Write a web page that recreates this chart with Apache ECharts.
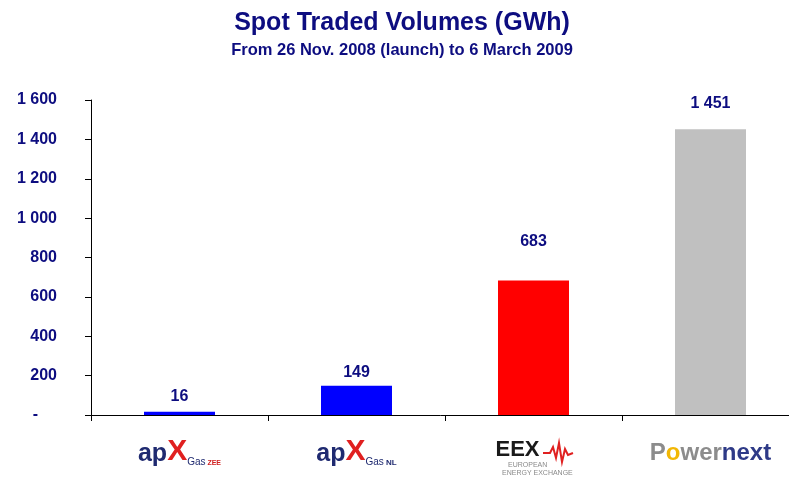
<!DOCTYPE html>
<html>
<head>
<meta charset="utf-8">
<script src="https://cdn.jsdelivr.net/npm/echarts@6/dist/echarts.min.js"></script>
<style>
  html, body { margin: 0; padding: 0; background: #fff; }
  #container { width: 789px; height: 477px; }
</style>
</head>
<body>
<div id="container"></div>
<script>
// data
var exchanges = ['APX Gas ZEE', 'APX Gas NL', 'EEX', 'Powernext'];
var volumes = [16, 149, 683, 1451];
var barColors = ['#0000ff', '#0000ff', '#ff0000', '#c0c0c0'];
var labelGap = [7, 5, 31, 18];   // gap between bar top and its value, as in the source

var navy = '#0d0d80';

function fmtNum(v) {
  if (v === 0) return '{z|-}';
  if (v >= 1000) return Math.floor(v / 1000) + ' ' + String(v % 1000).padStart(3, '0');
  return String(v);
}

// logos drawn as rich text
var logoText = {
  'APX Gas ZEE': '{ap|ap}{x|X}{gas|Gas}{tag| ZEE}',
  'APX Gas NL': '{ap|ap}{x|X}{gas|Gas}{nl| NL}',
  'EEX': '{eex|EEX}{gap|}\n{small|EUROPEAN      }\n{small|    ENERGY EXCHANGE}',
  'Powernext': '{pw|P}{po|o}{pw|wer}{nx|next}'
};

var dom = document.getElementById('container');
var myChart = echarts.init(dom, null, { renderer: 'canvas' });

var option = {
  animation: false,
  backgroundColor: '#fff',
  title: [
    {
      text: 'Spot Traded Volumes (GWh)',
      left: 397, top: 6, textAlign: 'center',
      textStyle: { fontFamily: 'Liberation Sans', fontSize: 25, fontWeight: 'bold', color: navy }
    },
    {
      text: 'From 26 Nov. 2008 (launch) to 6 March 2009',
      left: 397, top: 37, textAlign: 'center',
      textStyle: { fontFamily: 'Liberation Sans', fontSize: 16.5, fontWeight: 'bold', color: navy }
    }
  ],
  grid: { left: 91, top: 100, width: 708, height: 315, containLabel: false, outerBoundsMode: 'none' },
  xAxis: {
    type: 'category',
    data: exchanges,
    axisLine: { lineStyle: { color: '#000', width: 1 } },
    axisTick: { show: true, length: 6, lineStyle: { color: '#000' } },
    axisLabel: {
      margin: 24,
      interval: 0,
      formatter: function (v) { return logoText[v]; },
      rich: {
        ap: { fontFamily: 'Liberation Sans', fontSize: 25, fontWeight: 'bold', color: '#1f2a70', verticalAlign: 'bottom', lineHeight: 24 },
        x: { fontFamily: 'Liberation Sans', fontSize: 30, fontWeight: 'bold', color: '#e02020', verticalAlign: 'bottom', lineHeight: 28 },
        gas: { fontFamily: 'Liberation Sans', fontSize: 10, color: '#1f2a70', verticalAlign: 'bottom', lineHeight: 12 },
        tag: { fontFamily: 'Liberation Sans', fontSize: 7, fontWeight: 'bold', color: '#d02020', verticalAlign: 'bottom', lineHeight: 10 },
        nl: { fontFamily: 'Liberation Sans', fontSize: 8, fontWeight: 'bold', color: '#1f2a70', verticalAlign: 'bottom', lineHeight: 11 },
        eex: { fontFamily: 'Liberation Sans', fontSize: 22, fontWeight: 'bold', color: '#1a1a1a', lineHeight: 22 },
        gap: { width: 32, height: 20 },
        small: { fontFamily: 'Liberation Sans', fontSize: 7, color: '#8a8a8a', lineHeight: 8 },
        pw: { fontFamily: 'Liberation Sans', fontSize: 24, fontWeight: 'bold', color: '#8c8c8c', lineHeight: 28 },
        po: { fontFamily: 'Liberation Sans', fontSize: 24, fontWeight: 'bold', color: '#f2b705', lineHeight: 28 },
        nx: { fontFamily: 'Liberation Sans', fontSize: 24, fontWeight: 'bold', color: '#2e3a87', lineHeight: 28 }
      }
    }
  },
  yAxis: {
    type: 'value',
    min: 0, max: 1600, interval: 200,
    splitLine: { show: false },
    axisLine: { show: true, lineStyle: { color: '#000', width: 1 } },
    axisTick: { show: true, length: 6, lineStyle: { color: '#000' } },
    axisLabel: {
      margin: 34,
      fontFamily: 'Liberation Sans', fontSize: 16, fontWeight: 'bold', color: navy,
      formatter: fmtNum,
      rich: {
        z: { fontFamily: 'Liberation Sans', fontSize: 16, fontWeight: 'bold', color: navy, padding: [0, 19, 0, 0] }
      }
    }
  },
  series: [
    {
      type: 'bar',
      barWidth: 71,
      data: volumes.map(function (v, i) {
        return {
          value: v,
          itemStyle: { color: barColors[i] },
          label: { distance: labelGap[i] }
        };
      }),
      label: {
        show: true,
        position: 'top',
        fontFamily: 'Liberation Sans', fontSize: 16, fontWeight: 'bold', color: navy,
        formatter: function (p) { return fmtNum(p.value); }
      }
    }
  ],
  graphic: [
    {
      // zigzag of the EEX logo
      type: 'polyline',
      shape: { points: [[543, 453], [550, 453], [553, 447], [556, 458], [559, 443], [562, 462], [565, 449], [568, 455], [573, 453]] },
      style: { stroke: '#e02020', lineWidth: 2, fill: null }
    }
  ]
};

myChart.setOption(option);
window.addEventListener('resize', myChart.resize);
</script>
</body>
</html>
